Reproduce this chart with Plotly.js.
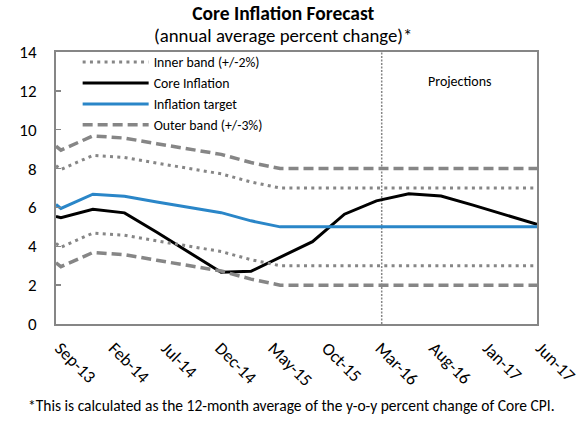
<!DOCTYPE html>
<html>
<head>
<meta charset="utf-8">
<script src="https://cdn.plot.ly/plotly-3.0.1.min.js"></script>
<style>
html,body{margin:0;padding:0;background:#fff;}
#chart{width:584px;height:424px;}
</style>
</head>
<body>
<div id="chart"></div>
<script>
var dates = ['2013-09-01','2013-09-15','2013-12-15','2014-03-15','2014-06-15','2014-09-15','2014-12-15','2015-03-10','2015-06-01','2015-09-01','2015-12-01','2016-03-01','2016-06-01','2016-09-01','2016-12-01','2017-03-01','2017-06-01'];
var coreInflation = [5.53,5.47,5.91,5.72,4.72,3.68,2.66,2.71,3.44,4.24,5.65,6.34,6.70,6.59,6.12,5.64,5.13];
var inflationTarget = [6.15,5.95,6.68,6.57,6.28,6.00,5.73,5.31,5.00,5.00,5.00,5.00,5.00,5.00,5.00,5.00,5.00];
var innerUpper = [8.15,7.95,8.68,8.57,8.28,8.00,7.73,7.31,7.00,7.00,7.00,7.00,7.00,7.00,7.00,7.00,7.00];
var innerLower = [4.15,3.95,4.68,4.57,4.28,4.00,3.73,3.31,3.00,3.00,3.00,3.00,3.00,3.00,3.00,3.00,3.00];
var outerUpper = [9.15,8.95,9.68,9.57,9.28,9.00,8.73,8.31,8.00,8.00,8.00,8.00,8.00,8.00,8.00,8.00,8.00];
var outerLower = [3.15,2.95,3.68,3.57,3.28,3.00,2.73,2.31,2.00,2.00,2.00,2.00,2.00,2.00,2.00,2.00,2.00];
var seriesNames = ['Inner band (+/-2%)','Core Inflation','Inflation target','Outer band (+/-3%)'];
var projectionStart = '2016-03-16';
var xRange = ['2013-09-01','2017-06-01'];

var FONT = 'Carlito, Lato, sans-serif';
var GRAY = '#868686';
var dotStyle = {color:GRAY, width:3, dash:'3px,4.3px'};
var dashStyle = {color:GRAY, width:3.5, dash:'10px,5px'};

var traces = [
  {x:dates, y:innerUpper, name:seriesNames[0], mode:'lines', line:dotStyle, legendgroup:'inner'},
  {x:dates, y:coreInflation, name:seriesNames[1], mode:'lines', line:{color:'#000000', width:3}},
  {x:dates, y:inflationTarget, name:seriesNames[2], mode:'lines', line:{color:'#2A86C8', width:3}},
  {x:dates, y:outerUpper, name:seriesNames[3], mode:'lines', line:dashStyle, legendgroup:'outer'},
  {x:dates, y:innerLower, name:seriesNames[0], mode:'lines', line:dotStyle, legendgroup:'inner', showlegend:false},
  {x:dates, y:outerLower, name:seriesNames[3], mode:'lines', line:dashStyle, legendgroup:'outer', showlegend:false}
];

var layout = {
  width:584, height:424,
  margin:{l:56, r:47, t:52, b:100},
  paper_bgcolor:'#fff', plot_bgcolor:'#fff',
  font:{family:FONT, color:'#000'},
  title:{
    text:'<b><span style="font-size:19.5px">Core Inflation Forecast</span></b><br><span style="font-size:18.8px">(annual average percent change)*</span>',
    font:{family:FONT, size:17, color:'#000'},
    x:0.485, xanchor:'center', xref:'container',
    y:0.952, yanchor:'top', yref:'container'
  },
  showlegend:true,
  legend:{
    x:0.045, y:1.02, xanchor:'left', yanchor:'top',
    bgcolor:'rgba(0,0,0,0)', borderwidth:0,
    font:{family:FONT, size:13.8, color:'#000'},
    itemwidth:66, traceorder:'normal', tracegroupgap:0
  },
  xaxis:{
    type:'date', range:xRange,
    tick0:'2013-09-01', dtick:'M5', tickformat:'%b-%y',
    tickangle:45, tickfont:{family:FONT, size:17.5, color:'#000'},
    ticklabelshift:4, ticklabelstandoff:5,
    showgrid:false, zeroline:false,
    showline:true, linecolor:GRAY, linewidth:2, mirror:true,
    ticks:'', fixedrange:true
  },
  yaxis:{
    range:[0,14], dtick:2, tick0:0,
    tickfont:{family:FONT, size:17, color:'#000'},
    ticklabelstandoff:14,
    showgrid:false, zeroline:false,
    showline:true, linecolor:GRAY, linewidth:2, mirror:true,
    ticks:'inside', ticklen:5, tickcolor:GRAY, tickwidth:1.5,
    fixedrange:true
  },
  shapes:[
    {type:'line', xref:'x', yref:'paper', x0:projectionStart, x1:projectionStart, y0:0, y1:1,
     line:{color:GRAY, width:1.5, dash:'2px,1.5px'}, layer:'below'}
  ],
  annotations:[
    {text:'Projections', xref:'paper', yref:'paper', x:0.84, y:0.89, xanchor:'center', yanchor:'middle',
     showarrow:false, font:{family:FONT, size:14, color:'#000'}},
    {text:'*This is calculated as the 12-month average of the y-o-y percent change of Core CPI.',
     xref:'paper', yref:'paper', x:0.49, y:-0.298, xanchor:'center', yanchor:'middle',
     showarrow:false, font:{family:FONT, size:15.5, color:'#000'}}
  ]
};

Plotly.newPlot('chart', traces, layout, {displayModeBar:false, staticPlot:true});
</script>
</body>
</html>
